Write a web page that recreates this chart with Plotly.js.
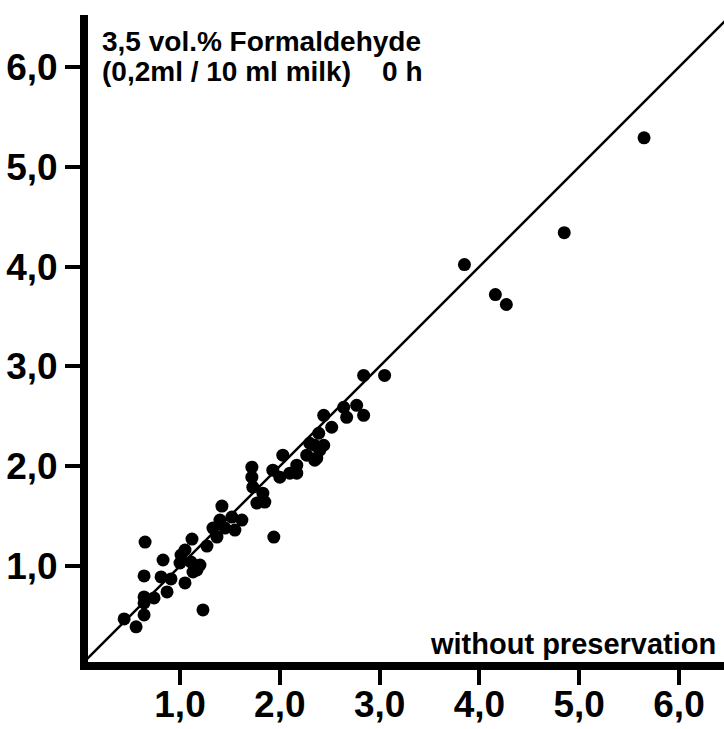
<!DOCTYPE html>
<html>
<head>
<meta charset="utf-8">
<script src="https://cdn.plot.ly/plotly-3.0.1.min.js"></script>
<style>html,body{margin:0;padding:0;background:#fff;}#chart{width:724px;height:729px;}</style>
</head>
<body>
<div id="chart"></div>
<script>
// "without preservation" (x) vs "3,5 vol.% Formaldehyde" (y)
const withoutPreservation = [
  0.44, 0.56, 0.64, 0.64, 0.64, 0.74, 0.64, 0.65, 0.83, 0.81,
  0.91, 0.87, 1.05, 1.23, 1.01, 1.05, 1.11, 1.17, 1.00, 1.20,
  1.13, 1.12, 1.27, 1.37, 1.42, 1.40, 1.52, 1.62, 1.55, 1.33,
  1.45, 1.72, 1.72, 1.73, 1.83, 1.77, 1.85, 1.94, 2.03, 1.93,
  2.00, 2.10, 2.17, 2.17, 2.27, 2.35, 2.30, 2.37, 2.40, 2.35,
  2.44, 2.39, 2.52, 2.44, 2.67, 2.84, 2.64, 2.77, 2.84, 3.05,
  3.85, 4.16, 4.27, 4.85, 5.65
];
const formaldehyde = [
  0.47, 0.39, 0.51, 0.63, 0.69, 0.68, 0.90, 1.24, 1.06, 0.89,
  0.87, 0.74, 0.83, 0.56, 1.11, 1.16, 1.04, 0.96, 1.03, 1.01,
  0.94, 1.27, 1.20, 1.29, 1.60, 1.46, 1.49, 1.46, 1.36, 1.38,
  1.38, 1.99, 1.89, 1.79, 1.73, 1.63, 1.64, 1.29, 2.11, 1.96,
  1.89, 1.93, 1.93, 2.01, 2.11, 2.06, 2.23, 2.08, 2.16, 2.21,
  2.21, 2.33, 2.39, 2.51, 2.49, 2.51, 2.59, 2.61, 2.91, 2.91,
  4.02, 3.72, 3.62, 4.34, 5.29
];
const identityLine = [0, 6.6];
const tickValues = [1, 2, 3, 4, 5, 6];
const tickLabels = ["1,0", "2,0", "3,0", "4,0", "5,0", "6,0"];
const titleLine1 = "3,5 vol.% Formaldehyde";
const titleLine2 = "(0,2ml / 10 ml milk)\u00a0\u00a0\u00a0 0 h";
const xLabel = "without preservation";

const FONT = "Liberation Sans, Arial, sans-serif";

const traces = [
  {
    x: identityLine, y: identityLine, mode: "lines", type: "scatter",
    line: {color: "#000", width: 2.5}, hoverinfo: "skip", showlegend: false
  },
  {
    x: withoutPreservation, y: formaldehyde, mode: "markers", type: "scatter",
    marker: {color: "#000", size: 13, line: {width: 0}}, showlegend: false
  }
];

const axisCommon = {
  showgrid: false, zeroline: false, showline: true, linecolor: "#000", linewidth: 8,
  ticks: "outside", ticklen: 15, tickwidth: 4, tickcolor: "#000",
  tickvals: tickValues, ticktext: tickLabels,
  tickfont: {family: FONT, size: 37, color: "#000", weight: "bold"}
};

const layout = {
  width: 724, height: 729,
  margin: {l: 88, r: 0, t: 15, b: 67},
  paper_bgcolor: "#fff", plot_bgcolor: "#fff",
  showlegend: false,
  xaxis: Object.assign({}, axisCommon, {range: [0.078, 6.451], ticklabelstandoff: -12}),
  yaxis: Object.assign({}, axisCommon, {range: [0.038, 6.521]}),
  annotations: [
    {xref: "x", yref: "y", x: 0.2, y: 6.43, xanchor: "left", yanchor: "top", showarrow: false,
     text: titleLine1, font: {family: FONT, size: 28, color: "#000", weight: "bold"}},
    {xref: "x", yref: "y", x: 0.2, y: 6.13, xanchor: "left", yanchor: "top", showarrow: false,
     text: titleLine2, font: {family: FONT, size: 28, color: "#000", weight: "bold"}},
    {xref: "x", yref: "y", x: 6.39, y: 0.04, xanchor: "right", yanchor: "bottom", showarrow: false,
     text: xLabel, font: {family: FONT, size: 29, color: "#000", weight: "bold"}}
  ]
};

Plotly.newPlot("chart", traces, layout, {staticPlot: true, displayModeBar: false});
</script>
</body>
</html>
